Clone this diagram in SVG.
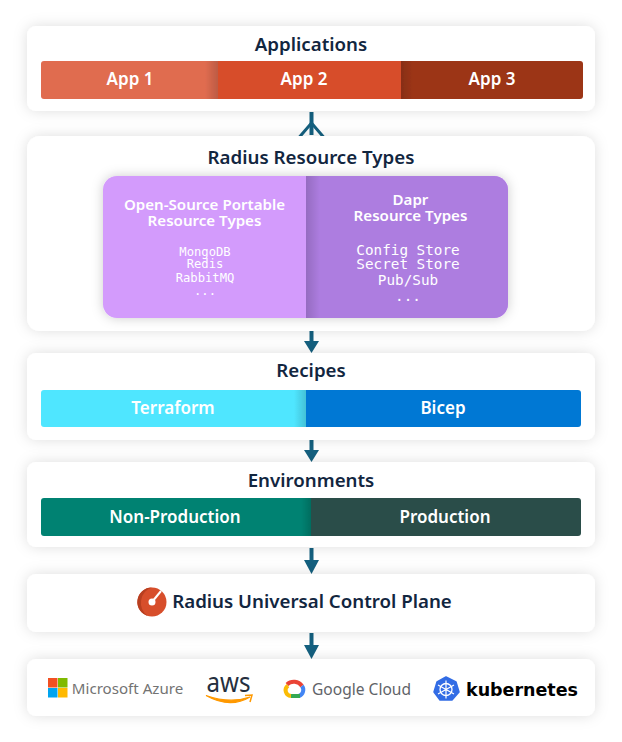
<svg xmlns="http://www.w3.org/2000/svg" width="622" height="742" viewBox="0 0 622 742">
<defs>
<style>
text{font-family:"Noto Sans","Open Sans","Liberation Sans",sans-serif;text-anchor:middle}
.t{font-size:18.700px;font-weight:600;fill:#12263f}
.b{font-size:17px;font-weight:600;fill:#fff}
.h{font-size:15.100px;font-weight:600;fill:#fff}
.m{font-family:"DejaVu Sans Mono","Liberation Mono",monospace;fill:#fff}
.m1{font-size:12.200px}
.m2{font-size:14.300px}
.card{fill:#fff;filter:url(#sh)}
.ln{stroke:#14607f;stroke-width:4;fill:none}
.ah{fill:#14607f}
</style>
<filter id="sh" x="-10%" y="-30%" width="120%" height="160%"><feDropShadow dx="0" dy="0" stdDeviation="7" flood-color="#000" flood-opacity=".13"/></filter>
<filter id="sb" x="-10%" y="-20%" width="120%" height="140%"><feDropShadow dx="0" dy="0" stdDeviation="6" flood-color="#000" flood-opacity=".2"/></filter>
<linearGradient id="s1" x1="0" x2="1"><stop offset="0" stop-color="#000" stop-opacity="0"/><stop offset="1" stop-color="#000" stop-opacity=".16"/></linearGradient>
<linearGradient id="s2" x1="1" x2="0"><stop offset="0" stop-color="#000" stop-opacity="0"/><stop offset="1" stop-color="#000" stop-opacity=".14"/></linearGradient>
<clipPath id="c1"><rect x="41" y="61" width="542" height="38" rx="3"/></clipPath>
<clipPath id="c2"><rect x="103" y="176" width="405" height="142" rx="14"/></clipPath>
<clipPath id="c3"><rect x="41" y="390" width="540" height="37" rx="3"/></clipPath>
<clipPath id="c4"><rect x="41" y="498" width="540" height="38" rx="3"/></clipPath>
</defs>
<rect width="622" height="742" fill="#fff"/>
<g id="connectors">
<path class="ln" d="M311.500 112V135"/>
<path class="ln" style="stroke-width:3" d="M299.500 137L311.500 123L323.500 137"/>
<path class="ln" d="M311.500 331V342"/><path class="ah" d="M304 341H319L311.500 353Z"/>
<path class="ln" d="M311.500 440V451"/><path class="ah" d="M304 450H319L311.500 462Z"/>
<path class="ln" d="M311.500 548V562"/><path class="ah" d="M304 560H319L311.500 574Z"/>
<path class="ln" d="M311.500 633V647"/><path class="ah" d="M304 645H319L311.500 659Z"/>
</g>
<g id="applications">
<rect class="card" x="27" y="26" width="568" height="85" rx="9"/>
<text class="t" x="311" y="51">Applications</text>
<g clip-path="url(#c1)" filter="url(#sb)">
<rect x="41" y="61" width="177" height="38" fill="#e06c50"/>
<rect x="205" y="61" width="13" height="38" fill="url(#s1)"/>
<rect x="218" y="61" width="183" height="38" fill="#d74e2b"/>
<rect x="401" y="61" width="182" height="38" fill="#9c3519"/>
<rect x="401" y="61" width="12" height="38" fill="url(#s2)"/>
</g>
<text class="b" x="130" y="85">App 1</text>
<text class="b" x="304" y="85">App 2</text>
<text class="b" x="492" y="85">App 3</text>
</g>
<g id="resource-types">
<rect class="card" x="27" y="136" width="568" height="195" rx="13"/>
<text class="t" x="311" y="164">Radius Resource Types</text>
<rect x="103" y="176" width="405" height="142" rx="14" fill="#d39bfc" filter="url(#sb)"/>
<g clip-path="url(#c2)">
<rect x="306" y="176" width="202" height="142" fill="#ad7de0"/>
<rect x="306" y="176" width="14" height="142" fill="url(#s2)"/>
</g>
<text class="h" x="204.500" y="210">Open-Source Portable</text>
<text class="h" x="204.500" y="226">Resource Types</text>
<text class="h" x="410.500" y="205">Dapr</text>
<text class="h" x="410.500" y="221">Resource Types</text>
<text class="m m1" x="205" y="256">MongoDB</text>
<text class="m m1" x="205" y="268">Redis</text>
<text class="m m1" x="205" y="282">RabbitMQ</text>
<text class="m m1" x="205" y="295">...</text>
<text class="m m2" x="408" y="255">Config Store</text>
<text class="m m2" x="408" y="269">Secret Store</text>
<text class="m m2" x="408" y="285">Pub/Sub</text>
<text class="m m2" x="408" y="301">...</text>
</g>
<g id="recipes">
<rect class="card" x="27" y="353" width="568" height="87" rx="9"/>
<text class="t" x="311" y="377">Recipes</text>
<g clip-path="url(#c3)" filter="url(#sb)">
<rect x="41" y="390" width="265" height="37" fill="#50e6ff"/>
<rect x="294" y="390" width="12" height="37" fill="url(#s1)"/>
<rect x="306" y="390" width="275" height="37" fill="#0078d4"/>
</g>
<text class="b" x="173" y="414">Terraform</text>
<text class="b" x="443" y="414">Bicep</text>
</g>
<g id="environments">
<rect class="card" x="27" y="462" width="568" height="85" rx="9"/>
<text class="t" x="311" y="487">Environments</text>
<g clip-path="url(#c4)" filter="url(#sb)">
<rect x="41" y="498" width="270" height="38" fill="#008272"/>
<rect x="301" y="498" width="10" height="38" fill="url(#s1)"/>
<rect x="311" y="498" width="270" height="38" fill="#294e4a"/>
</g>
<text class="b" x="175" y="523">Non-Production</text>
<text class="b" x="445" y="523">Production</text>
</g>
<g id="ucp">
<rect class="card" x="27" y="574" width="568" height="58" rx="9"/>
<circle cx="152" cy="602" r="14.500" fill="#d74e2b"/>
<path d="M152 587.500A14.500 14.500 0 0 0 148 616A16 16 0 0 1 152 587.500Z" fill="#b83f20"/>
<path d="M152 602L161 591" stroke="#fff" stroke-width="2"/>
<circle cx="152" cy="602" r="3.500" fill="#fff"/>
<text class="t" x="312" y="608">Radius Universal Control Plane</text>
</g>
<g id="platforms">
<rect class="card" x="27" y="659" width="568" height="57" rx="9"/>
<g id="azure">
<rect x="48" y="678" width="9.500" height="9.500" fill="#f25022"/>
<rect x="58" y="678" width="9.500" height="9.500" fill="#7fba00"/>
<rect x="48" y="688" width="9.500" height="9.500" fill="#00a4ef"/>
<rect x="58" y="688" width="9.500" height="9.500" fill="#ffb900"/>
<text x="127.500" y="694" style="font-size:15.100px;fill:#737373">Microsoft Azure</text>
</g>
<g id="aws">
<text x="228.500" y="692" textLength="44" lengthAdjust="spacingAndGlyphs" style="font-size:27px;fill:#252f3e;font-weight:400">aws</text>
<path d="M206 695.500Q230 709 250 697Q230 704 206 695.500Z" fill="#f90" stroke="#f90" stroke-width="1.200"/>
<path d="M245 695.500L252 695L250 702" fill="none" stroke="#f90" stroke-width="1.500"/>
</g>
<g id="gcloud">
<path d="M287 684.500A10 10 0 0 1 302 686" fill="none" stroke="#ea4335" stroke-width="4"/>
<path d="M302 686A6.500 6.500 0 0 1 299 696" fill="none" stroke="#4285f4" stroke-width="4"/>
<path d="M300 696H291" fill="none" stroke="#34a853" stroke-width="4"/>
<path d="M291 696A5.800 5.800 0 0 1 288 685.500" fill="none" stroke="#fbbc05" stroke-width="4"/>
<text x="361.500" y="695" textLength="99" lengthAdjust="spacingAndGlyphs" style="font-size:16.500px;fill:#5f6368">Google Cloud</text>
</g>
<g id="kubernetes">
<path d="M446 677L456 682L459 692L452 700H440L434 692L437 682Z" fill="#326ce5" stroke="#326ce5" stroke-width="1.500" stroke-linejoin="round"/>
<circle cx="446" cy="689.500" r="6" fill="none" stroke="#fff" stroke-width="1.300"/>
<path d="M446 680.500V698.500M438 685L454 694M454 685L438 694" stroke="#fff" stroke-width="1.200"/>
<text x="522" y="696" textLength="112" lengthAdjust="spacingAndGlyphs" style="font-size:18.500px;font-weight:700;fill:#000;font-family:'DejaVu Sans',sans-serif">kubernetes</text>
</g>
</g>
</svg>
